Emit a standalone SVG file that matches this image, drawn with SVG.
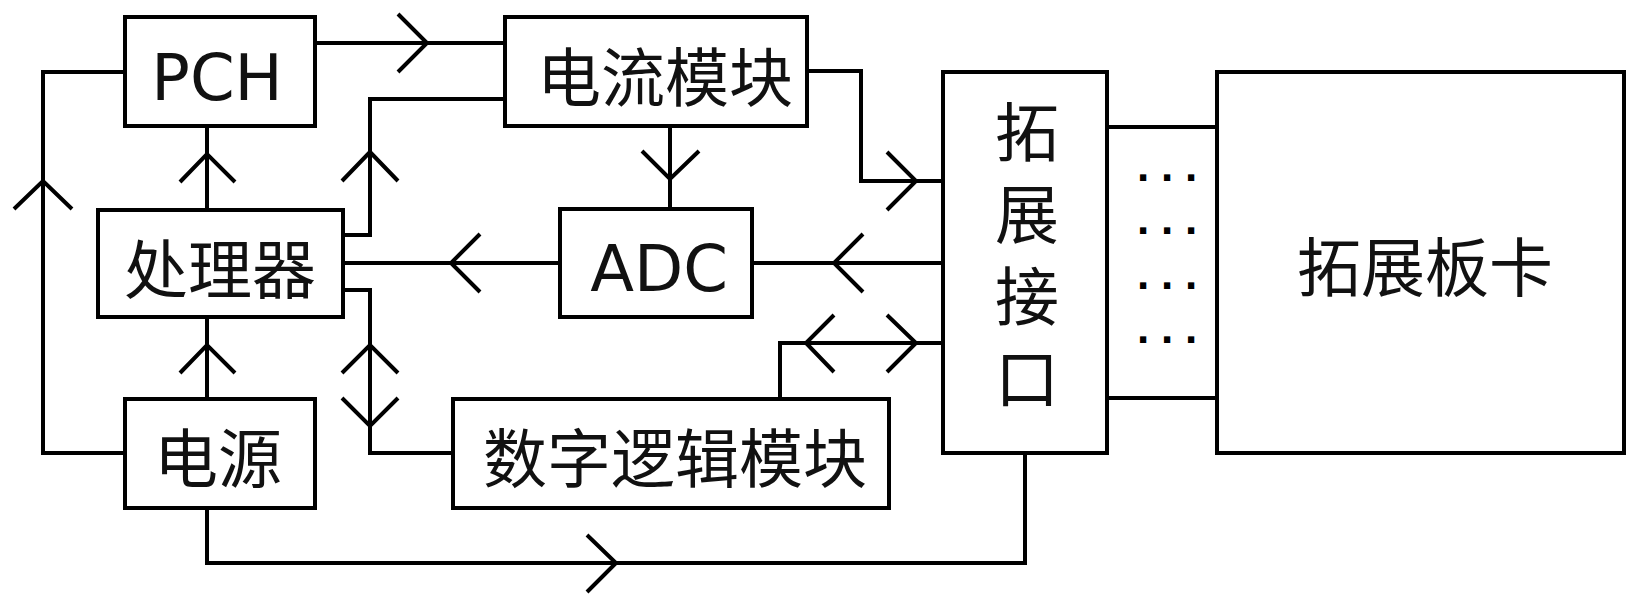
<svg xmlns="http://www.w3.org/2000/svg" width="1644" height="607" viewBox="0 0 1644 607">
<style>
.box{fill:#fff;stroke:#000;stroke-width:4}
.ln{fill:none;stroke:#000;stroke-width:4;stroke-linejoin:miter}
.ah{fill:none;stroke:#000;stroke-width:4;stroke-linejoin:miter}
.t{font-family:"DejaVu Sans","Noto Sans CJK SC",sans-serif;font-size:64px;fill:#111;text-anchor:middle}
.dots{font-family:"Liberation Sans",sans-serif;font-size:44px;font-weight:bold;letter-spacing:11.8px;fill:#000;text-anchor:start}
</style>
<rect width="1644" height="607" fill="#fff"/>
<g id="connectors">
<path class="ln" d="M125,72 H43 V453 H125"/>
<path class="ln" d="M315,43 H505"/>
<path class="ln" d="M343,235 H370 V99 H505"/>
<path class="ln" d="M207,210 V126"/>
<path class="ln" d="M207,399 V317"/>
<path class="ln" d="M343,263 H560"/>
<path class="ln" d="M343,290 H370 V453 H453"/>
<path class="ln" d="M670,126 V209"/>
<path class="ln" d="M807,71 H861 V181 H943"/>
<path class="ln" d="M752,263 H943"/>
<path class="ln" d="M780,399 V343 H943"/>
<path class="ln" d="M207,508 V563 H1025 V453"/>
<path class="ln" d="M1107,127 H1217"/>
<path class="ln" d="M1107,398 H1217"/>
<path class="ah" d="M14,209 L43,181 L72,209"/>
<path class="ah" d="M398,14 L427,43 L398,72"/>
<path class="ah" d="M342,181 L370,152 L398,181"/>
<path class="ah" d="M180,182 L207,154 L235,182"/>
<path class="ah" d="M480,234 L451,263 L480,292"/>
<path class="ah" d="M180,373 L207,345 L235,373"/>
<path class="ah" d="M342,373 L370,345 L398,373"/>
<path class="ah" d="M342,398 L370,426 L398,398"/>
<path class="ah" d="M642,151 L670,179 L699,151"/>
<path class="ah" d="M887,152 L916,181 L887,210"/>
<path class="ah" d="M863,234 L834,263 L863,292"/>
<path class="ah" d="M834,315 L806,343 L834,372"/>
<path class="ah" d="M887,315 L916,343 L887,372"/>
<path class="ah" d="M587,535 L616,563 L587,592"/>
</g>
<g id="pch"><rect class="box" x="125" y="17" width="190" height="109"/><text class="t" x="217" y="100">PCH</text></g>
<g id="current"><rect class="box" x="505" y="17" width="302" height="109"/><text class="t" x="665" y="101">电流模块</text></g>
<g id="processor"><rect class="box" x="98" y="210" width="245" height="107"/><text class="t" x="220" y="293">处理器</text></g>
<g id="adc"><rect class="box" x="560" y="209" width="192" height="108"/><text class="t" x="659" y="291">ADC</text></g>
<g id="power"><rect class="box" x="125" y="399" width="190" height="109"/><text class="t" x="218" y="482">电源</text></g>
<g id="digital"><rect class="box" x="453" y="399" width="436" height="109"/><text class="t" x="675" y="482">数字逻辑模块</text></g>
<g id="ext-if"><rect class="box" x="943" y="72" width="164" height="381"/>
<text class="t" x="1027" y="156">拓</text><text class="t" x="1027" y="238">展</text><text class="t" x="1027" y="320">接</text><text class="t" x="1027" y="402">口</text></g>
<g id="ext-card"><rect class="box" x="1217" y="72" width="407" height="381"/><text class="t" x="1425" y="291">拓展板卡</text></g>
<g id="dots">
<text class="dots" x="1137" y="181">...</text>
<text class="dots" x="1137" y="234">...</text>
<text class="dots" x="1137" y="289">...</text>
<text class="dots" x="1137" y="343">...</text>
</g>
</svg>
